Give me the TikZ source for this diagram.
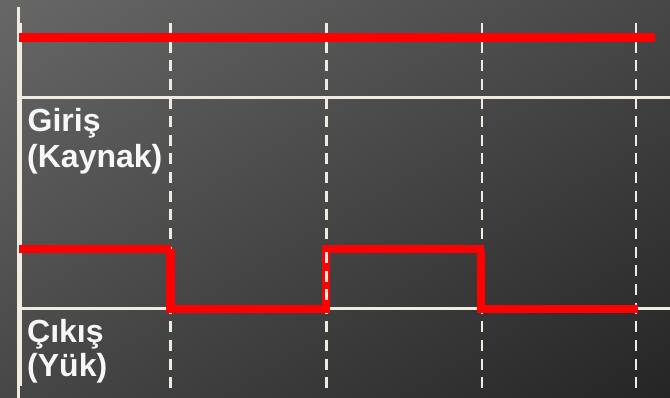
\documentclass[tikz,border=0pt]{standalone}
\usepackage{fontspec}
\setmainfont{Liberation Sans}
\usetikzlibrary{shadings}
\definecolor{sig}{HTML}{FF0000}
\definecolor{gridc}{HTML}{EFEBE0}
\definecolor{txt}{HTML}{F7F7F7}
\definecolor{bgTL}{HTML}{676767}
\definecolor{bgTR}{HTML}{474747}
\definecolor{bgBL}{HTML}{474747}
\definecolor{bgBR}{HTML}{252525}
\begin{document}
\begin{tikzpicture}[x=1pt,y=-1pt,
  gridline/.style={draw=gridc,line width=3pt},
  dashline/.style={draw=gridc,line width=2.5pt,dash pattern=on 11pt off 7.64pt},
  sigline/.style={draw=sig,line width=8.5pt},
  lbl/.style={anchor=base west,inner sep=0pt,text=txt,font=\bfseries\fontsize{32}{36}\selectfont}]
\useasboundingbox (0,0) rectangle (670,398);
\shade[upper left=bgTL,upper right=bgTR,lower left=bgBL,lower right=bgBR] (0,0) rectangle (670,398);
% axis
\draw[draw=gridc,line width=3.5pt] (18.7,7) -- (18.7,398);
\draw[draw=gridc,line width=1.5pt] (21,23) -- (21,386);
% horizontal rules
\draw[gridline] (20,98) -- (670,98);
\draw[gridline] (20,309) -- (670,309);
% dashed time markers
\foreach \xx in {170.5,326.5,482,636}{
  \draw[dashline] (\xx,23) -- (\xx,392);
}
% input signal
\draw[sigline] (19,37.5) -- (655,37.5);
% output signal
\draw[sigline] (19,249) -- (171,249);
\draw[sigline] (170.5,249) -- (170.5,313);
\draw[sigline] (166,309) -- (327,309);
\draw[sigline] (326,313) -- (326,253);
\draw[sigline] (322,249) -- (484,249);
\draw[sigline] (481,249) -- (481,313);
\draw[sigline] (477,309) -- (638,309);
\draw[dashline,dash phase=0pt] (326.5,251.9) -- (326.5,306);
% labels
\node[lbl] (gir1) at (27.5,132) {Giriş};
\node[lbl] (gir2) at (27,168) {(Kaynak)};
\node[lbl] (cik1) at (27,342) {Çıkış};
\node[lbl] (cik2) at (27,377) {(Yük)};
\end{tikzpicture}
\end{document}
